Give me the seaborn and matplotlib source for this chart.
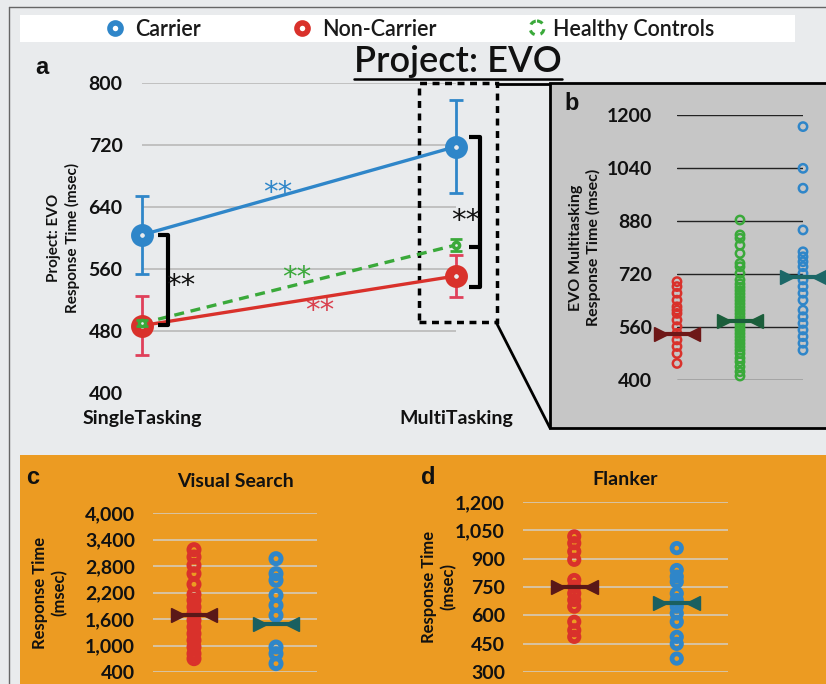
import numpy as np
import pandas as pd
import matplotlib
matplotlib.use('Agg')
import matplotlib.pyplot as plt
import seaborn as sns
from matplotlib.patches import Rectangle, Ellipse

sns.set_theme(style='white')
plt.rcParams['font.family'] = ['Lato', 'DejaVu Sans']

W, H = 826, 684

# ---- panel a: mean response time (msec) per task
tasks = ['SingleTasking', 'MultiTasking']
carrier_rt = [604, 718]
carrier_err = [50, 60]
noncarrier_rt = [487, 551]
noncarrier_err = [38, 27]
healthy_rt = [490, 591]
healthy_err = [4, 8]
a_ticks = [400, 480, 560, 640, 720, 800]

# ---- panel b: EVO multitasking, individual subjects
b_groups = ['Non-Carrier', 'Healthy Controls', 'Carrier']
b_noncarrier = [697, 682, 662, 641, 621, 611, 601, 581, 561, 541, 521, 501, 480, 450]
b_healthy = [883, 838, 828, 807, 782, 752, 742, 722, 702, 690, 680, 670, 660, 650,
             640, 630, 620, 610, 600, 590, 580, 570, 560, 550, 540, 530, 520, 510,
             500, 490, 480, 466, 455, 440, 425, 412]
b_carrier = [1165, 1039, 979, 853, 787, 772, 757, 742, 722, 702, 682, 662, 641,
             611, 591, 571, 551, 531, 511, 490]
b_means = [539, 579, 712]
b_ticks = [400, 560, 720, 880, 1040, 1200]

# ---- panel c: visual search
c_groups = ['Non-Carrier', 'Carrier']
c_noncarrier = [3170, 3004, 2815, 2626, 2385, 2158, 2023, 1872, 1721, 1570, 1419,
                1268, 1117, 966, 815, 702]
c_carrier = [2966, 2626, 2475, 2136, 1909, 1683, 966, 815, 589]
c_means = [1683, 1494]
c_ticks = [400, 1000, 1600, 2200, 2800, 3400, 4000]

# ---- panel d: flanker
d_noncarrier = [1018, 982, 938, 894, 787, 752, 716, 681, 646, 566, 521, 486]
d_carrier = [956, 840, 805, 778, 716, 681, 646, 610, 566, 486, 449, 371]
d_means = [752, 667]
d_ticks = [300, 450, 600, 750, 900, 1050, 1200]

BLUE = '#2f86c9'
RED = '#d9312b'
GREEN = '#3aa93a'
BG = '#e9ebed'
ORANGE = '#ec9b22'


def rect(x0, y0, x1, y1):
    return [x0 / W, 1 - y1 / H, (x1 - x0) / W, (y1 - y0) / H]


def ftext(x, y, s, **kw):
    return fig.text(x / W, 1 - y / H, s, **kw)


fig = plt.figure(figsize=(W / 100, H / 100), dpi=100, facecolor=BG)

# background decorations in pixel space
bg = fig.add_axes([0, 0, 1, 1], zorder=-1)
bg.set_xlim(0, W)
bg.set_ylim(H, 0)
bg.axis('off')
bg.add_patch(Rectangle((20, 15), 775, 27, facecolor='white', edgecolor='none'))
bg.add_patch(Rectangle((20, 455), 820, 240, facecolor=ORANGE, edgecolor='none'))
bg.add_patch(Rectangle((550, 83), 290, 345, facecolor='#c6c6c6', edgecolor='black', lw=2))
bg.plot([9, 9], [7, 690], color='#666666', lw=1)
bg.plot([9, 830], [7, 7], color='#666666', lw=1)
bg.plot([497, 550], [84, 84], color='black', lw=2)
bg.plot([496, 550], [322, 428], color='black', lw=2)

# legend strip
bg.plot([115], [28], marker='o', ms=8, mew=4, mfc='white', mec=BLUE)
bg.plot([302], [28], marker='o', ms=8, mew=4, mfc='white', mec=RED)
bg.add_patch(Ellipse((537, 28), 14, 14, facecolor='none', edgecolor=GREEN, lw=2.2, ls=(0, (2, 2))))
for x, s in [(135, 'Carrier'), (322, 'Non-Carrier'), (553, 'Healthy Controls')]:
    ftext(x, 29, s, fontsize=15.5, fontweight='semibold', color='#1a1a1a', va='center', ha='left')

title = ftext(458, 61, 'Project: EVO', fontsize=26, fontweight='semibold', color='#111111',
              ha='center', va='center')

# ---------------- panel a
ax = fig.add_axes(rect(142, 83, 456, 393))
ax.patch.set_visible(False)
rows = []
for g, vals in [('Carrier', carrier_rt), ('Non-Carrier', noncarrier_rt), ('Healthy Controls', healthy_rt)]:
    for i, v in enumerate(vals):
        rows.append({'task': i, 'rt': v, 'group': g})
df_a = pd.DataFrame(rows)
sns.lineplot(data=df_a, x='task', y='rt', hue='group', style='group',
             palette={'Carrier': BLUE, 'Non-Carrier': RED, 'Healthy Controls': GREEN},
             dashes={'Carrier': '', 'Non-Carrier': '', 'Healthy Controls': (3, 2)},
             linewidth=2.4, legend=False, ax=ax, zorder=2)
x_idx = np.arange(len(tasks))
conts = []
conts.append(ax.errorbar(x_idx, carrier_rt, yerr=carrier_err, fmt='o', color=BLUE, ms=10, mew=6.5,
                         mfc=BG, elinewidth=2, capsize=5, capthick=2, zorder=4))
conts.append(ax.errorbar(x_idx, noncarrier_rt, yerr=noncarrier_err, fmt='o', color=RED, ms=10, mew=6.5,
                         mfc=BG, elinewidth=2, capsize=5, capthick=2, zorder=4, ecolor='#e0405a'))
conts.append(ax.errorbar(x_idx, healthy_rt, yerr=healthy_err, fmt='o', color=GREEN, ms=4.5, mew=2.5,
                         mfc=BG, elinewidth=2, capsize=4, capthick=2, zorder=5))
for c in conts:
    for cap in c[1]:
        cap.set_markeredgewidth(2)
ax.set_xlim(0, 1)
ax.set_ylim(400, 800)
ax.set_yticks(a_ticks)
ax.set_xticks(x_idx)
ax.set_xticklabels(tasks)
ax.grid(axis='y', color='#bdbdbd', lw=1.3)
ax.grid(axis='x', visible=False)
ax.yaxis.get_gridlines()[0].set_visible(False)
ax.tick_params(length=0, labelsize=14, pad=14, labelcolor='#111111')
ax.tick_params(axis='x', pad=12)
for lab in ax.get_xticklabels() + ax.get_yticklabels():
    lab.set_fontweight('bold')
ax.set_xlabel('')
ax.set_ylabel('')
sns.despine(ax=ax, left=True, bottom=True)

# significance brackets and stars
bk = dict(color='black', lw=3, clip_on=False, solid_capstyle='butt')
ax.plot([0.051, 0.083, 0.083, 0.051], [604, 604, 488, 488], **bk)
ax.plot([1.041, 1.076, 1.076, 1.041], [730, 730, 537, 537], **bk)
ax.plot([1.041, 1.076], [588, 588], **bk)
star = dict(fontsize=21, ha='center', va='center', family=['DejaVu Sans'])
ax.text(0.433, 658, '**', color=BLUE, **star)
ax.text(0.494, 548, '**', color=GREEN, **star)
ax.text(0.567, 506, '**', color='#d9404e', **star)
ax.text(0.124, 538, '**', color='#111111', **star)
ax.text(1.03, 622, '**', color='#111111', **star)
ax.add_patch(Rectangle((0.882, 492), 0.249, 308, facecolor='none', edgecolor='black',
                       lw=2.5, ls=(0, (2, 1.6)), clip_on=False, zorder=1))
for art in ax.lines + ax.collections:
    art.set_clip_on(False)
ax.text(-0.25, 0.5, 'Project: EVO\nResponse Time (msec)', transform=ax.transAxes, rotation=90,
        ha='center', va='center', fontsize=11, fontweight='bold', color='#111111', linespacing=1.3)


def strip_panel(ax, groups, values, colors, means, mean_colors, hw, size, lw):
    df = pd.DataFrame({'group': np.repeat(groups, [len(v) for v in values]),
                       'rt': np.concatenate(values)})
    sns.stripplot(data=df, x='group', y='rt', hue='group', order=groups, hue_order=groups,
                  palette=dict(zip(groups, colors)), jitter=False, size=size,
                  linewidth=lw, legend=False, ax=ax, zorder=3)
    for coll in ax.collections:
        offs = coll.get_offsets()
        if len(offs) == 0:
            continue
        k = int(round(offs[:, 0].mean()))
        coll.set_facecolor('none')
        coll.set_edgecolor(colors[k])
        coll.set_linewidth(lw)
        coll.set_clip_on(False)
    for i, (m, mc) in enumerate(zip(means, mean_colors)):
        ax.plot([i - hw, i + hw], [m, m], color=mc, lw=3, zorder=5, clip_on=False)
        ax.plot([i - hw], [m], marker='>', ms=10, color=mc, zorder=5, clip_on=False)
        ax.plot([i + hw], [m], marker='<', ms=10, color=mc, zorder=5, clip_on=False)
    ax.set_xlabel('')
    ax.set_ylabel('')
    ax.set_xticks([])
    ax.patch.set_visible(False)
    sns.despine(ax=ax, left=True, bottom=True)
    ax.tick_params(length=0, labelsize=14, pad=13, labelcolor='#111111')


# ---------------- panel b
axb = fig.add_axes(rect(677, 115, 803, 380))
strip_panel(axb, b_groups, [b_noncarrier, b_healthy, b_carrier], [RED, GREEN, BLUE],
            b_means, ['#6e1717', '#1b5e3b', '#1c6868'], 0.26, 6.0, 1.8)
axb.set_xlim(0, 2)
axb.set_ylim(400, 1200)
axb.set_yticks(b_ticks)
axb.set_yticklabels([str(t) for t in b_ticks])
axb.tick_params(pad=18)
for lab in axb.get_yticklabels():
    lab.set_fontweight('bold')
axb.grid(axis='y', color='#222222', lw=1)
axb.grid(axis='x', visible=False)
axb.set_axisbelow(True)
axb.text(-0.73, 0.5, 'EVO Multitasking\nResponse Time (msec)', transform=axb.transAxes, rotation=90,
         ha='center', va='center', fontsize=11.5, fontweight='bold', color='#111111', linespacing=1.2)

# ---------------- panel c
axc = fig.add_axes(rect(153, 513, 317, 672))
strip_panel(axc, c_groups, [c_noncarrier, c_carrier], [RED, BLUE], c_means,
            ['#5a1818', '#1a6060'], 0.19, 7.2, 3.6)
axc.set_xlim(-0.5, 1.5)
axc.set_ylim(400, 4000)
axc.set_yticks(c_ticks)
axc.set_yticklabels(['{:,}'.format(t) for t in c_ticks])
for lab in axc.get_yticklabels():
    lab.set_fontweight('bold')
axc.grid(axis='y', color='#d6c7ad', lw=1.3)
axc.grid(axis='x', visible=False)
axc.set_axisbelow(True)
axc.text(-0.63, 0.5, 'Response Time\n(msec)', transform=axc.transAxes, rotation=90,
         ha='center', va='center', fontsize=12, fontweight='bold', color='#111111', linespacing=1.3)
axc.set_title('Visual Search', fontsize=14, fontweight='bold', color='#111111', pad=19)

# ---------------- panel d
axd = fig.add_axes(rect(523, 502, 728, 672))
strip_panel(axd, c_groups, [d_noncarrier, d_carrier], [RED, BLUE], d_means,
            ['#5a1818', '#1a6060'], 0.16, 6.8, 3.4)
axd.set_xlim(-0.5, 1.5)
axd.set_ylim(300, 1200)
axd.set_yticks(d_ticks)
axd.set_yticklabels(['{:,}'.format(t) for t in d_ticks])
for lab in axd.get_yticklabels():
    lab.set_fontweight('bold')
axd.grid(axis='y', color='#d6c7ad', lw=1.3)
axd.grid(axis='x', visible=False)
axd.set_axisbelow(True)
axd.text(-0.41, 0.5, 'Response Time\n(msec)', transform=axd.transAxes, rotation=90,
         ha='center', va='center', fontsize=12, fontweight='bold', color='#111111', linespacing=1.3)
axd.set_title('Flanker', fontsize=14, fontweight='bold', color='#111111', pad=12)

# panel letters
for x, y, s in [(42, 68, 'a'), (572, 103, 'b'), (33, 477, 'c'), (428, 477, 'd')]:
    ftext(x, y, s, fontsize=17, fontweight='bold', family=['Liberation Sans', 'DejaVu Sans'],
          ha='center', va='center', color='#111111')

# underline the title
fig.canvas.draw()
bb = title.get_window_extent()
bg.plot([bb.x0, bb.x1], [H - bb.y0 + 1, H - bb.y0 + 1], color='black', lw=1.8)

fig.savefig('out.png', dpi=100, facecolor=BG)
